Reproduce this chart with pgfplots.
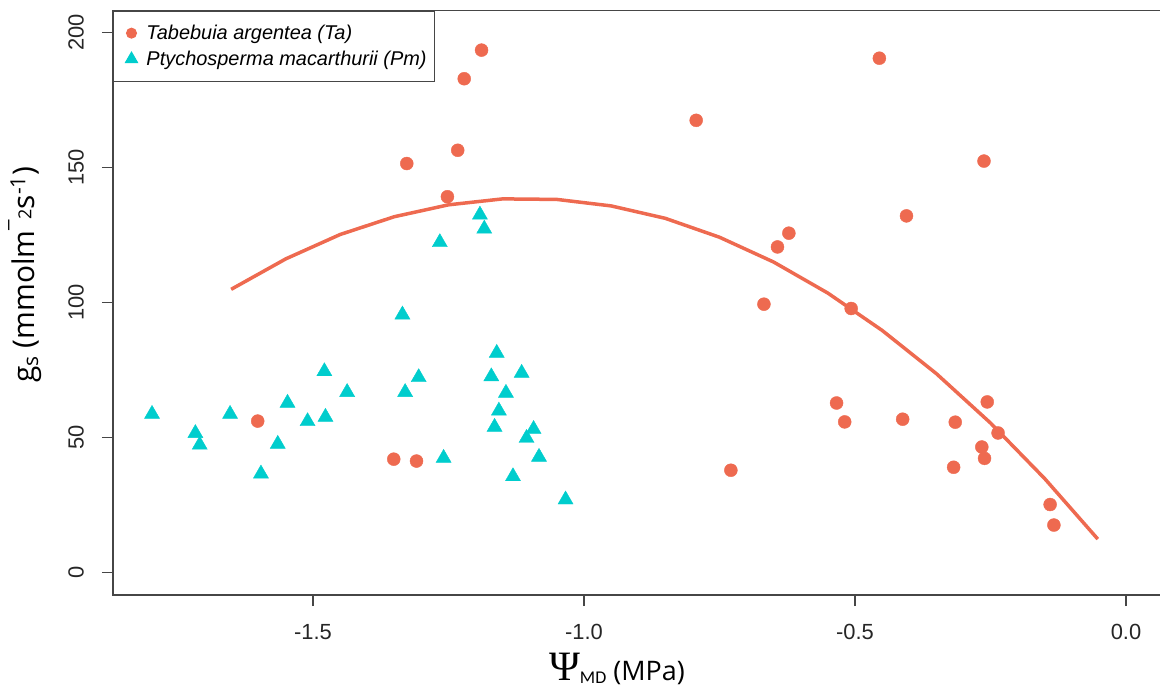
\documentclass[border=0pt]{standalone}
\usepackage{fontspec}
\usepackage{pgfplots}
\pgfplotsset{compat=1.18}
\usetikzlibrary{calc}
\setmainfont{Liberation Sans}
\newfontfamily\opensans{Open Sans}
\newfontfamily\tnr{Liberation Serif}
\newfontfamily\carlito{Carlito}
\definecolor{coraltwo}{RGB}{238,106,80}
\definecolor{cyanthree}{RGB}{0,205,205}
\definecolor{axgray}{RGB}{70,70,70}

\pgfplotstableread{
x y
-1.602 56.0
-1.351 41.9
-1.309 41.2
-1.189 193.4
-1.221 182.8
-1.233 156.3
-1.327 151.4
-1.252 139.1
-0.455 190.4
-0.793 167.4
-0.262 152.3
-0.405 132.0
-0.622 125.6
-0.643 120.5
-0.668 99.3
-0.507 97.7
-0.729 37.8
-0.534 62.7
-0.519 55.7
-0.412 56.7
-0.315 55.6
-0.256 63.1
-0.236 51.6
-0.266 46.4
-0.261 42.2
-0.318 38.9
-0.140 25.1
-0.133 17.5
}\tatable

\pgfplotstableread{
x y
-1.797 58.6
-1.717 51.5
-1.709 47.2
-1.653 58.6
-1.479 74.4
-1.547 62.7
-1.596 36.5
-1.565 47.5
-1.510 55.9
-1.477 57.5
-1.437 66.7
-1.335 95.4
-1.305 72.2
-1.330 66.7
-1.259 42.3
-1.161 81.2
-1.171 72.5
-1.115 73.8
-1.144 66.4
-1.157 59.8
-1.165 53.8
-1.093 53.0
-1.106 49.7
-1.083 42.7
-1.131 35.5
-1.034 26.9
-1.192 132.4
-1.184 127.2
-1.266 122.2
}\pmtable

\pgfplotstableread{
x y
-1.651 104.8
-1.55 116.1
-1.45 125.1
-1.35 131.7
-1.25 136.1
-1.15 138.3
-1.05 138.1
-0.95 135.7
-0.85 131.1
-0.75 124.1
-0.65 114.9
-0.55 103.4
-0.45 89.6
-0.35 73.6
-0.25 55.3
-0.15 34.7
-0.052 12.3
}\fittable

\begin{document}
\begin{tikzpicture}
\begin{axis}[
  name=ax,
  scale only axis,
  width=1052bp, height=584.3bp,
  xmin=-1.869, xmax=0.072,
  ymin=-8.41, ymax=208.0,
  axis line style={line width=1.2bp, axgray},
  xtick={-1.5,-1.0,-0.5,0.0},
  xticklabels={-1.5,-1.0,-0.5,0.0},
  ytick={0,50,100,150,200},
  yticklabels={0,50,100,150,200},
  xtick pos=lower, ytick pos=left,
  tick align=outside,
  major tick length=11bp,
  tick style={line width=1.2bp, axgray},
  tick label style={font=\fontsize{22}{24}\selectfont, text=black!85},
  xticklabel style={anchor=north, inner sep=0pt, yshift=-18bp},
  yticklabel style={anchor=south, inner sep=0pt, xshift=-18bp, rotate=90},
  xlabel={{\tnr\fontsize{42}{44}\selectfont Ψ}{\carlito\fontsize{18}{19}\selectfont\raisebox{-3bp}{MD}}\hspace{7bp}{\opensans\fontsize{27}{29}\selectfont (MPa)}},
  xlabel style={at={(axis description cs:0.479,-0.146)}, anchor=base, inner sep=0pt},
  ylabel={{\opensans\fontsize{30}{32}\selectfont g\textsubscript{s} (mmolm\textsuperscript{¯}\raisebox{3bp}{\fontsize{18}{20}\selectfont 2}s\textsuperscript{-1})}},
  ylabel style={at={(axis description cs:-0.0837,0.548)}, anchor=center, rotate=0, inner sep=0pt},
  legend style={at={(axis description cs:0,1)}, anchor=north west,
    draw=axgray, line width=1bp, font=\fontsize{20}{22}\selectfont\itshape,
    inner xsep=6bp, inner ysep=12bp, row sep=6bp,
    nodes={inner sep=2bp}},
  legend cell align=left,
  legend image code/.code={\path[draw=none, fill=none] (0bp,0bp) -- (25bp,0bp);\path[#1, draw=none, mark repeat=2, mark phase=2] plot coordinates {(0bp,0bp) (12bp,0bp) (25bp,0bp)};},
]
\addplot[coraltwo, line width=3.5bp, forget plot] table[x=x,y=y] {\fittable};
\addplot[only marks, mark=*, mark size=6.5bp, color=coraltwo, mark options={draw=coraltwo, fill=coraltwo}, forget plot] table[x=x,y=y] {\tatable};
\addplot[only marks, mark=triangle*, mark size=8.7bp, color=cyanthree, mark options={draw=cyanthree, fill=cyanthree}, forget plot] table[x=x,y=y] {\pmtable};
\addlegendimage{mark=*, mark size=5bp, color=coraltwo, mark options={draw=coraltwo, fill=coraltwo}}
\addlegendentry{Tabebuia argentea (Ta)}
\addlegendimage{mark=triangle*, mark size=7bp, color=cyanthree, mark options={draw=cyanthree, fill=cyanthree}}
\addlegendentry{Ptychosperma macarthurii (Pm)}
\end{axis}
\pgfresetboundingbox
\path[use as bounding box] ($(ax.south west)+(-113bp,-93bp)$) rectangle ++(1160bp,688bp);
\end{tikzpicture}
\end{document}
